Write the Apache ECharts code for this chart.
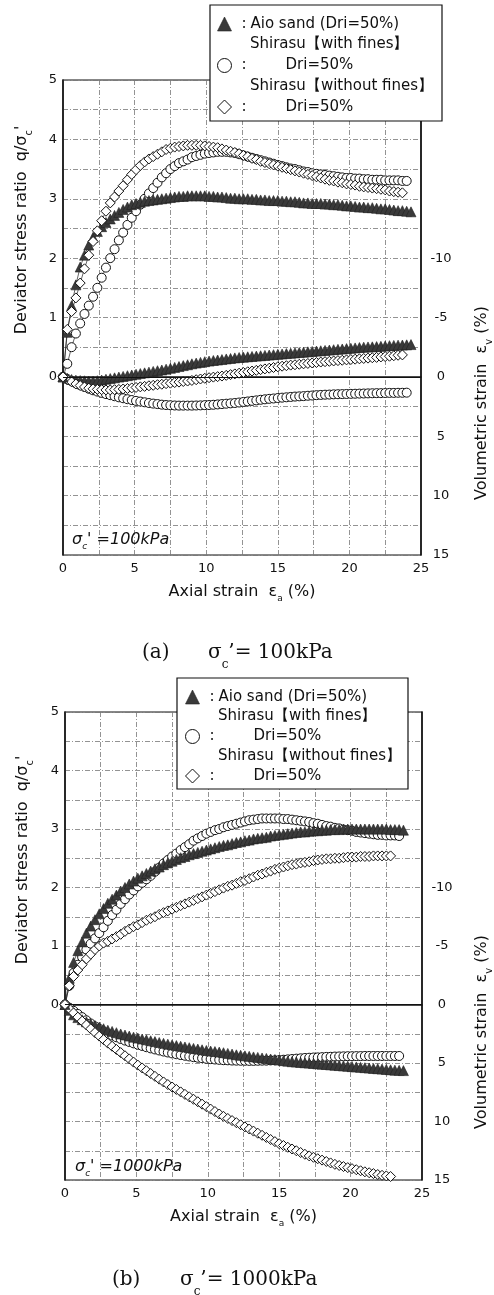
<!DOCTYPE html>
<html>
<head>
<meta charset="utf-8">
<script src="https://cdn.jsdelivr.net/npm/echarts@6/dist/echarts.min.js"></script>
<style>
  html, body { margin: 0; padding: 0; background: #fff; }
  #main { width: 494px; height: 1295px; }
</style>
</head>
<body>
<div id="main"></div>
<script>
// axial strain (%) at which the readings were taken
var strain = [
  0,0.3,0.6,0.9,1.2,1.5,1.8,2.1,2.4,2.7,
  3,3.3,3.6,3.9,4.2,4.5,4.8,5.1,5.4,5.7,
  6,6.3,6.6,6.9,7.2,7.5,7.8,8.1,8.4,8.7,
  9,9.3,9.6,9.9,10.2,10.5,10.8,11.1,11.4,11.7,
  12,12.3,12.6,12.9,13.2,13.5,13.8,14.1,14.4,14.7,
  15,15.3,15.6,15.9,16.2,16.5,16.8,17.1,17.4,17.7,
  18,18.3,18.6,18.9,19.2,19.5,19.8,20.1,20.4,20.7,
  21,21.3,21.6,21.9,22.2,22.5,22.8,23.1,23.4,23.7,
  24,24.3
];

// (a) sigma_c' = 100kPa : deviator stress ratio q/sigma_c'
var aioQA = [
  0,0.75,1.2,1.55,1.85,2.05,2.22,2.35,2.45,2.53,
  2.6,2.66,2.72,2.77,2.82,2.86,2.9,2.92,2.94,2.96,
  2.97,2.98,2.99,3.0,3.01,3.02,3.03,3.04,3.04,3.05,
  3.05,3.05,3.05,3.05,3.04,3.04,3.03,3.03,3.02,3.01,
  3.01,3.0,3.0,3.0,2.99,2.99,2.98,2.98,2.97,2.97,
  2.97,2.96,2.96,2.95,2.95,2.94,2.93,2.93,2.92,2.92,
  2.92,2.91,2.91,2.9,2.9,2.89,2.88,2.88,2.87,2.86,
  2.86,2.85,2.85,2.84,2.83,2.83,2.82,2.81,2.8,2.8,
  2.79,2.78
];
var finesQA = [
  0,0.22,0.5,0.73,0.9,1.06,1.2,1.35,1.5,1.67,
  1.84,2.0,2.15,2.3,2.43,2.56,2.68,2.79,2.9,3.0,
  3.09,3.18,3.27,3.36,3.43,3.5,3.55,3.6,3.63,3.66,
  3.7,3.72,3.74,3.76,3.77,3.78,3.79,3.79,3.79,3.78,
  3.77,3.75,3.73,3.71,3.69,3.67,3.65,3.63,3.61,3.59,
  3.57,3.55,3.53,3.51,3.5,3.48,3.46,3.45,3.43,3.42,
  3.41,3.4,3.39,3.38,3.37,3.36,3.35,3.35,3.34,3.34,
  3.33,3.33,3.32,3.32,3.32,3.31,3.31,3.31,3.31,3.3,
  3.3
];
var noFinesQA = [
  0,0.8,1.1,1.33,1.58,1.82,2.05,2.28,2.46,2.63,
  2.79,2.93,3.03,3.13,3.22,3.32,3.41,3.49,3.56,3.62,
  3.67,3.71,3.75,3.79,3.83,3.85,3.87,3.88,3.89,3.9,
  3.9,3.9,3.9,3.89,3.88,3.87,3.86,3.84,3.82,3.8,
  3.78,3.76,3.73,3.71,3.68,3.66,3.63,3.61,3.59,3.57,
  3.55,3.53,3.51,3.49,3.47,3.45,3.43,3.41,3.39,3.37,
  3.35,3.33,3.31,3.3,3.28,3.27,3.25,3.24,3.23,3.21,
  3.2,3.19,3.18,3.17,3.16,3.15,3.13,3.12,3.11,3.1
];
// (a) volumetric strain (%)
var aioEvA = [
  0,0.12,0.22,0.28,0.31,0.33,0.35,0.35,0.32,0.27,
  0.2,0.14,0.08,0.02,-0.04,-0.1,-0.16,-0.22,-0.28,-0.34,
  -0.4,-0.46,-0.52,-0.58,-0.65,-0.72,-0.8,-0.87,-0.95,-1.02,
  -1.1,-1.16,-1.22,-1.28,-1.33,-1.38,-1.42,-1.46,-1.51,-1.55,
  -1.6,-1.63,-1.66,-1.69,-1.72,-1.75,-1.78,-1.81,-1.84,-1.87,
  -1.9,-1.93,-1.96,-1.99,-2.02,-2.05,-2.08,-2.11,-2.14,-2.17,
  -2.2,-2.23,-2.26,-2.29,-2.32,-2.35,-2.38,-2.41,-2.44,-2.47,
  -2.5,-2.52,-2.53,-2.55,-2.57,-2.6,-2.63,-2.65,-2.67,-2.68,
  -2.7,-2.72
];
var finesEvA = [
  0,0.18,0.36,0.54,0.7,0.85,1.0,1.13,1.24,1.35,
  1.45,1.54,1.63,1.72,1.8,1.88,1.95,2.02,2.08,2.14,
  2.2,2.25,2.29,2.34,2.37,2.39,2.41,2.42,2.42,2.42,
  2.42,2.41,2.4,2.38,2.37,2.35,2.32,2.29,2.26,2.23,
  2.2,2.16,2.11,2.07,2.02,1.98,1.93,1.89,1.85,1.82,
  1.78,1.75,1.72,1.69,1.66,1.64,1.62,1.59,1.57,1.54,
  1.52,1.5,1.49,1.47,1.46,1.45,1.44,1.43,1.42,1.41,
  1.4,1.39,1.38,1.37,1.37,1.36,1.35,1.35,1.34,1.34,
  1.33
];
var noFinesEvA = [
  0,0.22,0.42,0.6,0.73,0.85,0.95,1.01,1.05,1.08,
  1.1,1.1,1.08,1.06,1.02,0.98,0.93,0.89,0.84,0.8,
  0.75,0.71,0.66,0.62,0.57,0.53,0.48,0.44,0.39,0.35,
  0.3,0.24,0.18,0.12,0.07,0.02,-0.02,-0.07,-0.13,-0.19,
  -0.25,-0.31,-0.37,-0.43,-0.49,-0.55,-0.61,-0.67,-0.73,-0.79,
  -0.85,-0.9,-0.94,-0.99,-1.02,-1.06,-1.1,-1.13,-1.17,-1.21,
  -1.25,-1.28,-1.31,-1.34,-1.37,-1.4,-1.43,-1.46,-1.49,-1.52,
  -1.55,-1.58,-1.61,-1.64,-1.68,-1.71,-1.74,-1.78,-1.82,-1.85
];

// (b) sigma_c' = 1000kPa : deviator stress ratio
var aioQB = [
  0,0.45,0.72,0.92,1.07,1.22,1.34,1.45,1.55,1.64,
  1.73,1.8,1.87,1.94,2.0,2.06,2.11,2.16,2.2,2.24,
  2.28,2.32,2.35,2.39,2.42,2.45,2.48,2.51,2.53,2.56,
  2.58,2.6,2.62,2.64,2.66,2.68,2.7,2.72,2.73,2.75,
  2.77,2.78,2.8,2.81,2.83,2.84,2.85,2.86,2.88,2.89,
  2.9,2.91,2.92,2.93,2.94,2.95,2.95,2.96,2.97,2.97,
  2.98,2.98,2.99,2.99,2.99,3.0,3.0,3.0,3.0,3.0,
  3.0,3.0,3.0,3.0,3.0,3.0,2.99,2.99,2.99,2.98
];
var finesQB = [
  0,0.32,0.54,0.68,0.81,0.94,1.04,1.13,1.22,1.32,
  1.43,1.53,1.62,1.72,1.8,1.88,1.95,2.02,2.08,2.14,
  2.2,2.27,2.34,2.41,2.47,2.53,2.58,2.64,2.69,2.74,
  2.8,2.84,2.88,2.92,2.95,2.98,3.0,3.03,3.05,3.07,
  3.09,3.11,3.13,3.15,3.16,3.17,3.18,3.18,3.18,3.18,
  3.18,3.17,3.17,3.16,3.15,3.14,3.13,3.12,3.1,3.09,
  3.07,3.05,3.04,3.02,3.01,2.99,2.98,2.97,2.95,2.94,
  2.93,2.92,2.91,2.9,2.9,2.89,2.89,2.89,2.88
];
var noFinesQB = [
  0,0.32,0.48,0.59,0.68,0.78,0.86,0.94,1.0,1.05,
  1.08,1.12,1.16,1.2,1.25,1.29,1.33,1.36,1.4,1.44,
  1.47,1.5,1.54,1.57,1.6,1.63,1.66,1.69,1.72,1.75,
  1.78,1.81,1.84,1.87,1.9,1.93,1.96,1.99,2.02,2.04,
  2.07,2.1,2.12,2.15,2.18,2.21,2.23,2.26,2.28,2.31,
  2.33,2.35,2.37,2.39,2.4,2.42,2.43,2.44,2.46,2.47,
  2.48,2.49,2.49,2.5,2.5,2.51,2.52,2.52,2.52,2.53,
  2.53,2.53,2.54,2.54,2.54,2.54,2.54
];
// (b) volumetric strain (%)
var aioEvB = [
  0,0.5,0.88,1.12,1.3,1.48,1.65,1.8,1.93,2.07,
  2.2,2.3,2.41,2.52,2.61,2.7,2.79,2.87,2.95,3.02,
  3.1,3.17,3.25,3.32,3.39,3.45,3.51,3.57,3.63,3.69,
  3.75,3.81,3.87,3.93,3.98,4.02,4.07,4.12,4.18,4.24,
  4.3,4.34,4.39,4.43,4.48,4.52,4.57,4.61,4.66,4.7,
  4.75,4.8,4.84,4.89,4.92,4.95,4.98,5.01,5.04,5.07,
  5.1,5.13,5.16,5.19,5.22,5.25,5.28,5.31,5.34,5.37,
  5.4,5.43,5.46,5.49,5.52,5.55,5.58,5.61,5.63,5.65
];
var finesEvB = [
  0,0.27,0.54,0.81,1.08,1.35,1.62,1.87,2.08,2.29,
  2.5,2.65,2.8,2.95,3.08,3.2,3.32,3.44,3.54,3.65,
  3.75,3.84,3.93,4.02,4.1,4.18,4.25,4.32,4.38,4.44,
  4.5,4.55,4.59,4.64,4.67,4.7,4.73,4.76,4.77,4.79,
  4.8,4.81,4.81,4.82,4.82,4.81,4.8,4.8,4.78,4.77,
  4.75,4.72,4.69,4.66,4.63,4.6,4.57,4.55,4.53,4.52,
  4.5,4.48,4.47,4.45,4.44,4.43,4.42,4.42,4.41,4.41,
  4.4,4.4,4.4,4.4,4.4,4.4,4.4,4.4,4.4
];
var noFinesEvB = [
  0,0.36,0.72,1.08,1.42,1.75,2.08,2.4,2.7,3.0,
  3.3,3.57,3.84,4.11,4.38,4.65,4.92,5.18,5.42,5.66,
  5.9,6.14,6.38,6.62,6.84,7.05,7.26,7.47,7.68,7.89,
  8.1,8.31,8.52,8.73,8.94,9.15,9.36,9.56,9.74,9.92,
  10.1,10.28,10.46,10.64,10.82,11.0,11.18,11.36,11.54,11.72,
  11.9,12.05,12.2,12.35,12.5,12.65,12.8,12.94,13.06,13.18,
  13.3,13.42,13.54,13.66,13.76,13.85,13.94,14.03,14.12,14.21,
  14.3,14.38,14.45,14.53,14.6,14.65,14.7
];

var SANS = 'DejaVu Sans';
var SERIF = 'DejaVu Serif';
var INK = '#111';

var styles = {
  'Aio sand': { symbol: 'triangle', size: 10, legendSize: 12, item: { color: '#3a3a3a', borderColor: '#222', borderWidth: 0.6 } },
  'Shirasu with fines': { symbol: 'circle', size: 9, legendSize: 14, item: { color: '#fff', borderColor: INK, borderWidth: 1 } },
  'Shirasu without fines': { symbol: 'diamond', size: 10, legendSize: 14, item: { color: '#fff', borderColor: INK, borderWidth: 1 } }
};

function pts(vals) {
  return vals.map(function (v, i) { return [strain[i], v]; });
}

function line(name, gi, yi, vals) {
  var s = styles[name];
  return {
    type: 'line', name: name,
    xAxisIndex: gi, yAxisIndex: yi,
    data: pts(vals),
    symbol: s.symbol, symbolSize: s.size,
    showSymbol: true,
    itemStyle: s.item,
    lineStyle: { color: '#222', width: 0.7 },
    emphasis: { disabled: true },
    z: 3
  };
}

var grids = [
  { left: 63, top: 80, width: 358, height: 475 },
  { left: 65, top: 712, width: 357, height: 468 }
];

var dashed = { color: '#777', width: 0.8, type: [5, 2, 1, 2] };
var axisLineStyle = { show: true, lineStyle: { color: INK, width: 1.5 } };

function xAxis(gi) {
  return {
    gridIndex: gi, type: 'value', min: 0, max: 25, interval: 2.5,
    axisLine: axisLineStyle, axisTick: { show: false },
    axisLabel: {
      margin: 7, fontFamily: SANS, fontSize: 13, color: INK,
      formatter: function (v) { return v % 5 === 0 ? String(v) : ''; }
    },
    splitLine: { show: true, lineStyle: dashed },
    name: 'Axial strain  ε{s|a} (%)',
    nameLocation: 'middle', nameGap: 29,
    nameTextStyle: {
      fontFamily: SANS, fontSize: 16, color: INK,
      rich: { s: { fontFamily: SANS, fontSize: 9, color: INK, verticalAlign: 'bottom', padding: [0, 0, -3, 0] } }
    }
  };
}

function qAxis(gi) {
  return {
    gridIndex: gi, type: 'value', min: -3, max: 5, interval: 0.5,
    axisLine: axisLineStyle, axisTick: { show: false },
    axisLabel: {
      margin: 6, fontFamily: SANS, fontSize: 13, color: INK,
      formatter: function (v) { return (v >= 0 && v % 1 === 0) ? String(v) : ''; }
    },
    splitLine: { show: true, lineStyle: dashed }
  };
}

function evAxis(gi) {
  return {
    gridIndex: gi, type: 'value', position: 'right', inverse: true,
    min: -25, max: 15, interval: 2.5,
    axisLine: axisLineStyle, axisTick: { show: false },
    axisLabel: {
      margin: 20, align: 'center', fontFamily: SANS, fontSize: 13, color: INK,
      formatter: function (v) { return (v >= -10 && v % 5 === 0) ? String(v) : ''; }
    },
    splitLine: { show: false }
  };
}

var zeroLine = {
  silent: true, symbol: ['none', 'none'], label: { show: false },
  lineStyle: { color: INK, type: 'solid', width: 1.2 },
  data: [{ yAxis: 0 }]
};

var seriesA = [
  line('Shirasu with fines', 0, 1, finesEvA),
  line('Aio sand', 0, 1, aioEvA),
  line('Shirasu without fines', 0, 1, noFinesEvA),
  line('Shirasu with fines', 0, 0, finesQA),
  line('Aio sand', 0, 0, aioQA),
  line('Shirasu without fines', 0, 0, noFinesQA)
];
seriesA[3].markLine = zeroLine;
var seriesB = [
  line('Shirasu with fines', 1, 3, finesEvB),
  line('Aio sand', 1, 3, aioEvB),
  line('Shirasu without fines', 1, 3, noFinesEvB),
  line('Shirasu with fines', 1, 2, finesQB),
  line('Aio sand', 1, 2, aioQB),
  line('Shirasu without fines', 1, 2, noFinesQB)
];
seriesB[3].markLine = zeroLine;

var legendNames = ['Aio sand', 'Shirasu with fines', 'Shirasu without fines'];

function legend(left, top, gap) {
  return {
    orient: 'vertical', left: left, top: top, itemGap: gap, padding: 0,
    itemWidth: 14, itemHeight: 14, z: 12,
    selectedMode: false,
    data: legendNames.map(function (n) {
      return { name: n, icon: styles[n].symbol, itemStyle: styles[n].item };
    }),
    textStyle: {
      fontFamily: SANS, fontSize: 15, color: INK, lineHeight: 16,
      rich: {
        a: { fontFamily: SANS, fontSize: 15, color: INK, width: 9, padding: [0, 0, 0, 5], lineHeight: 16 },
        b: { fontFamily: SANS, fontSize: 15, color: INK, width: 44, padding: [0, 0, 0, 5], lineHeight: 16 },
        t: { fontFamily: SANS, fontSize: 15, color: INK, lineHeight: 16 }
      }
    },
    formatter: function (n) {
      return n === 'Aio sand' ? '{a|:}{t|Aio sand (Dri=50%)}' : '{b|:}{t|Dri=50%}';
    }
  };
}

var subRich = {
  s: { fontFamily: SANS, fontSize: 10, fill: INK, verticalAlign: 'bottom', padding: [0, 0, -4, 0] }
};

function vtext(x, y, txt) {
  return {
    type: 'text', x: x, y: y, rotation: Math.PI / 2, z: 12,
    style: {
      text: txt, fontFamily: SANS, fontSize: 16, fill: INK,
      align: 'center', verticalAlign: 'middle', rich: subRich
    }
  };
}

function htext(x, y, txt, extra) {
  var st = { text: txt, fontFamily: SANS, fontSize: 15, fill: INK, align: 'left', verticalAlign: 'middle' };
  for (var k in extra) st[k] = extra[k];
  return { type: 'text', x: x, y: y, z: 12, style: st };
}

var italicRich = {
  s: { fontFamily: SANS, fontSize: 9, fontStyle: 'italic', fill: INK, verticalAlign: 'bottom', padding: [0, 0, -3, 0] }
};
var serifRich = {
  s: { fontFamily: SERIF, fontSize: 12, fill: INK, verticalAlign: 'bottom', padding: [0, 0, -8, 0] }
};

var graphics = [
  // legend frames
  { type: 'rect', z: 10, shape: { x: 210, y: 5, width: 232, height: 116 },
    style: { fill: '#fff', stroke: INK, lineWidth: 1.2 } },
  { type: 'rect', z: 10, shape: { x: 177, y: 678, width: 231, height: 111 },
    style: { fill: '#fff', stroke: INK, lineWidth: 1.2 } },
  htext(250, 44, 'Shirasu【with fines】'),
  htext(250, 86, 'Shirasu【without fines】'),
  htext(218, 716, 'Shirasu【with fines】'),
  htext(218, 756, 'Shirasu【without fines】'),
  // axis titles
  vtext(22, 230, "Deviator stress ratio  q/σ{s|c}'"),
  vtext(482, 403, 'Volumetric strain  ε{s|v} (%)'),
  vtext(23, 860, "Deviator stress ratio  q/σ{s|c}'"),
  vtext(482, 1032, 'Volumetric strain  ε{s|v} (%)'),
  // confining pressure notes
  htext(72, 540, "σ{s|c}' =100kPa", { fontStyle: 'italic', fontSize: 16, rich: italicRich }),
  htext(75, 1167, "σ{s|c}' =1000kPa", { fontStyle: 'italic', fontSize: 16, rich: italicRich }),
  // captions
  htext(142, 653, '(a)', { fontFamily: SERIF, fontSize: 20 }),
  htext(208, 653, 'σ{s|c}’= 100kPa', { fontFamily: SERIF, fontSize: 20, rich: serifRich }),
  htext(112, 1280, '(b)', { fontFamily: SERIF, fontSize: 20 }),
  htext(180, 1280, 'σ{s|c}’= 1000kPa', { fontFamily: SERIF, fontSize: 20, rich: serifRich })
];

var chart = echarts.init(document.getElementById('main'));
chart.setOption({
  animation: false,
  backgroundColor: '#fff',
  grid: grids.map(function (g) {
    return { left: g.left, top: g.top, width: g.width, height: g.height,
      show: true, borderColor: INK, borderWidth: 1.2, backgroundColor: 'transparent' };
  }),
  xAxis: [xAxis(0), xAxis(1)],
  yAxis: [qAxis(0), evAxis(0), qAxis(1), evAxis(1)],
  legend: [legend(217, 16, 25.5), legend(185, 689, 23.5)],
  graphic: graphics,
  series: seriesA.concat(seriesB)
});
</script>
</body>
</html>
